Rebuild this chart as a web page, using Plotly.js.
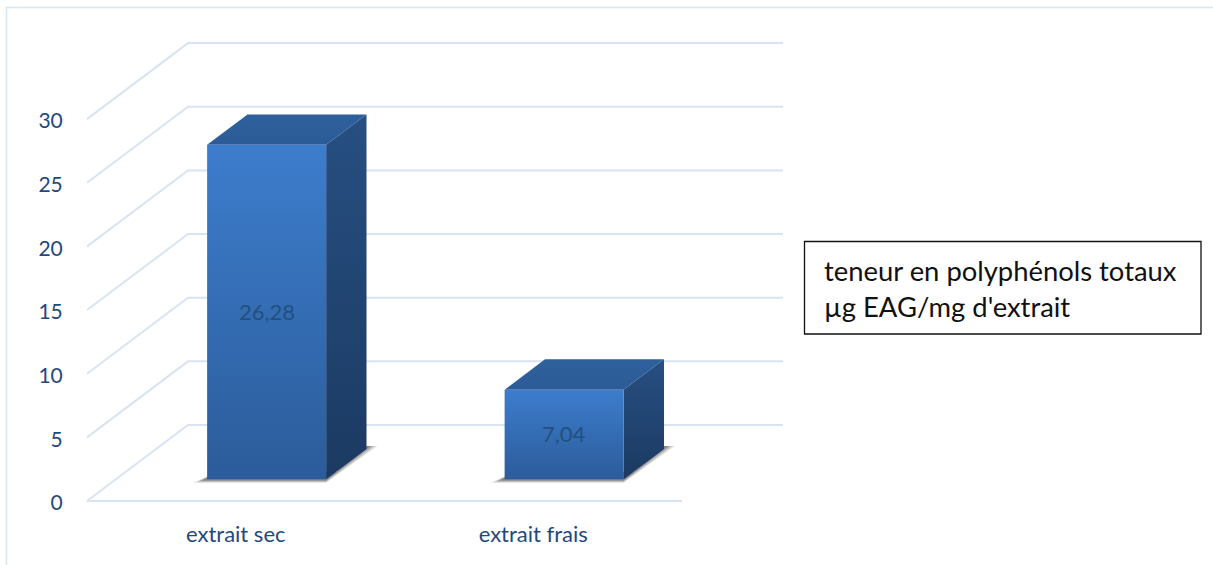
<!DOCTYPE html>
<html>
<head>
<meta charset="utf-8">
<script src="https://cdn.plot.ly/plotly-3.0.1.min.js"></script>
<style>html,body{margin:0;padding:0;background:#fff;overflow:hidden}</style>
</head>
<body>
<div id="chart" style="width:1213px;height:565px"></div>
<script>
// Polyphenol content of the two extracts
const categories = ["extrait sec", "extrait frais"];
const values = [26.28, 7.04];
const valueLabels = ["26,28", "7,04"];
const valueTicks = [0, 5, 10, 15, 20, 25, 30];
const boxLines = ["teneur en polyphénols totaux", "µg EAG/mg d'extrait"];

// Oblique projection: depth 0 is the front of the floor, depth 1 the back wall.
const PX_X = 297.5, PX_Y = 12.73;  // pixels per category, pixels per value unit
const DEPTH_X = 101 / PX_X;
const DEPTH_Y = 76 / PX_Y;
const project = (x, v, d) => [x + d * DEPTH_X, v + d * DEPTH_Y];

const BAR_WIDTH = 0.4;
const BAR_FRONT = 0.285;
const BAR_BACK = BAR_FRONT + 0.4;
const BAR_NUDGE = 0.007;

function poly(points, gradient, extra) {
  const p = points.map(q => project(q[0], q[1], q[2]));
  p.push(p[0]);
  return Object.assign({
    type: "scatter", mode: "none", fill: "toself",
    x: p.map(q => q[0]), y: p.map(q => q[1]),
    fillgradient: gradient ? {type: "vertical", colorscale: [[0, gradient[1]], [1, gradient[0]]]} : undefined,
    hoverinfo: "skip", showlegend: false
  }, extra || {});
}

// Wall and floor rules
const gridX = [], gridY = [];
valueTicks.forEach(v => {
  const a = project(0, v, 0), b = project(0, v, 1), c = project(categories.length, v, 1);
  gridX.push(a[0], b[0], c[0], null);
  gridY.push(a[1], b[1], c[1], null);
});
const f0 = project(0, 0, 0), f1 = project(categories.length, 0, 0);
gridX.push(f0[0], f1[0]);
gridY.push(f0[1], f1[1]);

const traces = [{
  type: "scatter", mode: "lines", x: gridX, y: gridY,
  line: {color: "#d8e4f3", width: 2}, hoverinfo: "skip", showlegend: false
}];

// Soft contact shadows under each block, built up from stacked translucent layers
const shadowLayers = [
  {tail: 14, below: 3.5, alpha: 0.12},
  {tail: 11, below: 2.8, alpha: 0.18},
  {tail: 8, below: 2, alpha: 0.24},
  {tail: 5, below: 1.2, alpha: 0.30}
];
categories.forEach((c, i) => {
  const l = i + 0.5 + BAR_NUDGE - BAR_WIDTH / 2, r = l + BAR_WIDTH;
  shadowLayers.forEach(s => {
    const tx = s.tail / PX_X, by = s.below / PX_Y;
    traces.push(poly([
      [l - tx, -by, BAR_FRONT],
      [r, -by, BAR_FRONT],
      [r + tx * 0.8, 3 / PX_Y, BAR_BACK],
      [r, 3 / PX_Y, BAR_BACK],
      [r, 0, BAR_FRONT + 0.1],
      [l, 0, BAR_FRONT + 0.1]
    ], null, {fillcolor: "rgba(60,60,60," + s.alpha + ")"}));
  });
});

// Blocks: top, side and front faces
categories.forEach((c, i) => {
  const v = values[i];
  const l = i + 0.5 + BAR_NUDGE - BAR_WIDTH / 2, r = l + BAR_WIDTH;
  traces.push(poly([[l, v, BAR_FRONT], [r, v, BAR_FRONT], [r, v, BAR_BACK], [l, v, BAR_BACK]],
    ["#2e609c", "#2c5c97"]));
  traces.push(poly([[r, 0, BAR_FRONT], [r, 0, BAR_BACK], [r, v, BAR_BACK], [r, v, BAR_FRONT]],
    ["#274f82", "#1b3a62"]));
  traces.push(poly([[l, 0, BAR_FRONT], [r, 0, BAR_FRONT], [r, v, BAR_FRONT], [l, v, BAR_FRONT]],
    ["#3d7dcd", "#2b5c9a"]));
});

// Values printed on the front faces
const valueNotes = categories.map((c, i) => {
  const p = project(i + 0.5 + BAR_NUDGE, values[i] / 2, BAR_FRONT);
  return {
    xref: "x", yref: "y", x: p[0], y: p[1], yshift: 1, showarrow: false,
    text: valueLabels[i],
    font: {family: "Lato, sans-serif", size: 22, color: "#22507f"}
  };
});

const tickFont = {family: "Lato, sans-serif", size: 22, color: "#1f497d"};
const layout = {
  width: 1213, height: 565,
  margin: {l: 0, r: 0, t: 0, b: 0},
  paper_bgcolor: "#fff", plot_bgcolor: "#fff",
  showlegend: false,
  xaxis: {
    range: [-87 / PX_X, (1213 - 87) / PX_X],
    anchor: "free", position: (565 - 501) / 565,
    tickmode: "array", tickvals: categories.map((c, i) => i + 0.5), ticktext: categories,
    ticks: "outside", ticklen: 14, tickcolor: "rgba(0,0,0,0)",
    showgrid: false, zeroline: false, showline: false, tickfont: tickFont, fixedrange: true
  },
  yaxis: {
    range: [-64 / PX_Y, 501 / PX_Y],
    anchor: "free", position: 87 / 1213,
    tickmode: "array", tickvals: valueTicks, ticktext: valueTicks.map(String),
    ticks: "outside", ticklen: 20, tickcolor: "rgba(0,0,0,0)", ticklabelshift: 2,
    showgrid: false, zeroline: false, showline: false,
    tickfont: {family: tickFont.family, size: 21, color: tickFont.color}, fixedrange: true
  },
  shapes: [
    // chart frame, open on the right and at the bottom
    {type: "path", xref: "paper", yref: "paper",
     path: "M " + 6.5 / 1213 + " 0 L " + 6.5 / 1213 + " " + (565 - 7.5) / 565 + " L 1 " + (565 - 7.5) / 565,
     line: {color: "#d9e5f4", width: 1.5}},
    // caption box
    {type: "rect", xref: "paper", yref: "paper",
     x0: 804.5 / 1213, x1: 1201 / 1213, y0: (565 - 334) / 565, y1: (565 - 241.5) / 565,
     line: {color: "#111", width: 1.3}, fillcolor: "#fff"}
  ],
  annotations: valueNotes.concat([{
    xref: "paper", yref: "paper", xanchor: "left", yanchor: "middle", align: "left",
    x: 822 / 1213, y: (565 - 288.5) / 565, showarrow: false,
    text: boxLines.join("<br>"),
    font: {family: "Lato, sans-serif", size: 27.4, color: "#111"}
  }])
};

Plotly.newPlot("chart", traces, layout, {staticPlot: true, displayModeBar: false});
</script>
</body>
</html>
